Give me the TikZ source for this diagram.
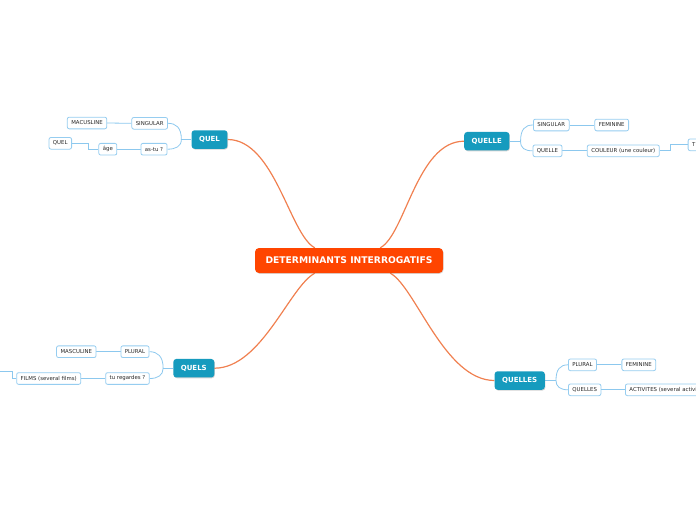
\documentclass[tikz,border=0pt]{standalone}
\usepackage{fontspec}
\setmainfont{DejaVu Sans}
\usetikzlibrary{shadows,backgrounds}
\definecolor{cent}{RGB}{255,69,0}
\definecolor{branch}{RGB}{22,155,190}
\definecolor{leafb}{RGB}{150,205,240}
\definecolor{linkb}{RGB}{140,200,238}
\definecolor{orl}{RGB}{240,128,80}
\definecolor{txt}{RGB}{40,40,40}
\begin{document}
\begin{tikzpicture}[x=1pt,y=-1pt,
 centre/.style={fill=cent, rounded corners=4pt, text=white, font=\bfseries\fontsize{9.2}{10}\selectfont, minimum width=188pt, minimum height=25pt, inner sep=0pt, drop shadow={shadow xshift=0.6pt,shadow yshift=-0.8pt,opacity=0.3}},
 branchnode/.style={fill=branch, rounded corners=3pt, text=white, font=\bfseries\fontsize{7}{8}\selectfont, minimum height=18.5pt, inner xsep=7.5pt, inner ysep=0pt, drop shadow={shadow xshift=0.6pt,shadow yshift=-0.8pt,opacity=0.35}},
 leaf/.style={draw=leafb, line width=0.8pt, fill=white, rounded corners=2pt, text=txt, font=\fontsize{5.4}{6}\selectfont, minimum height=11.7pt, inner xsep=4pt, inner ysep=0pt},
 olink/.style={draw=orl, line width=1.2pt},
 blink/.style={draw=linkb, line width=0.8pt},
]
\useasboundingbox (0,0) rectangle (696,520);

% central and main branches
\node[centre] (c) at (349,260.5) {DETERMINANTS INTERROGATIFS};
\node[branchnode] (quel) at (209.5,139.5) {QUEL};
\node[branchnode] (quelle) at (486.8,141.2) {QUELLE};
\node[branchnode] (quels) at (193.8,368.2) {QUELS};
\node[branchnode] (quelles) at (519.7,380.5) {QUELLES};

% leaves QUEL
\node[leaf] (ma) at (87,123) {MACUSLINE};
\node[leaf] (sg1) at (149.7,123.3) {SINGULAR};
\node[leaf] (q1) at (60.3,143.3) {QUEL};
\node[leaf] (age) at (107.8,149.2) {âge};
\node[leaf] (astu) at (154,149.2) {as-tu ?};
% leaves QUELLE
\node[leaf] (sg2) at (551.3,125) {SINGULAR};
\node[leaf] (fem2) at (611.7,125) {FEMININE};
\node[leaf] (qe2) at (547.5,150.8) {QUELLE};
\node[leaf] (coul) at (623.3,150.8) {COULEUR (une couleur)};
\node[leaf,anchor=west] (t) at (687.7,144.8) {T\hspace*{30pt}};
% leaves QUELS
\node[leaf] (mas) at (76.3,351.7) {MASCULINE};
\node[leaf] (pl3) at (135,351.7) {PLURAL};
\node[leaf] (films) at (48.7,378.5) {FILMS (several films)};
\node[leaf] (tureg) at (127.5,378.5) {tu regardes ?};
\coordinate (off) at (-5,371.5);
% leaves QUELLES
\node[leaf] (pl4) at (582.5,364.8) {PLURAL};
\node[leaf] (fem4) at (638.8,364.8) {FEMININE};
\node[leaf] (qs4) at (584.7,389.8) {QUELLES};
\node[leaf,anchor=west] (act) at (625,389.8) {ACTIVITES (several activities)};

\begin{scope}[on background layer]
% orange connectors
\draw[olink] ([xshift=60pt]c.north west) .. controls +(-25,-13) and +(47,0) .. (quel.east);
\draw[olink] ([xshift=-63pt]c.north east) .. controls +(25,-13) and +(-47,0) .. (quelle.west);
\draw[olink] ([xshift=60pt]c.south west) .. controls +(-25,13) and +(47,0) .. (quels.east);
\draw[olink] ([xshift=-53pt]c.south east) .. controls +(25,13) and +(-50,0) .. (quelles.west);

% blue connectors QUEL
\draw[blink] (quel.west) -- ++(-10,0) coordinate (j1);
\draw[blink] (j1) .. controls +(0,-12) and +(8,0) .. (sg1.east);
\draw[blink] (j1) .. controls +(0,7) and +(8,0) .. (astu.east);
\draw[blink] (ma.east) -- (sg1.west);
\draw[blink] (age.east) -- (astu.west);
\draw[blink] (q1.east) -- ++(16,0) |- (age.west);
% QUELLE
\draw[blink] (quelle.east) -- ++(11,0) coordinate (j2);
\draw[blink] (j2) .. controls +(0,-12) and +(-8,0) .. (sg2.west);
\draw[blink] (j2) .. controls +(0,7) and +(-8,0) .. (qe2.west);
\draw[blink] (sg2.east) -- (fem2.west);
\draw[blink] (qe2.east) -- (coul.west);
\draw[blink] (coul.east) -- ++(11,0) |- (t.west);
% QUELS
\draw[blink] (quels.west) -- ++(-10,0) coordinate (j3);
\draw[blink] (j3) .. controls +(0,-12) and +(8,0) .. (pl3.east);
\draw[blink] (j3) .. controls +(0,7) and +(8,0) .. (tureg.east);
\draw[blink] (mas.east) -- (pl3.west);
\draw[blink] (tureg.west) -- (films.east);
\draw[blink] (films.west) -- ++(-4,0) |- (off);
% QUELLES
\draw[blink] (quelles.east) -- ++(11,0) coordinate (j4);
\draw[blink] (j4) .. controls +(0,-11) and +(-8,0) .. (pl4.west);
\draw[blink] (j4) .. controls +(0,6) and +(-8,0) .. (qs4.west);
\draw[blink] (pl4.east) -- (fem4.west);
\draw[blink] (qs4.east) -- (act.west);
\end{scope}
\end{tikzpicture}
\end{document}
